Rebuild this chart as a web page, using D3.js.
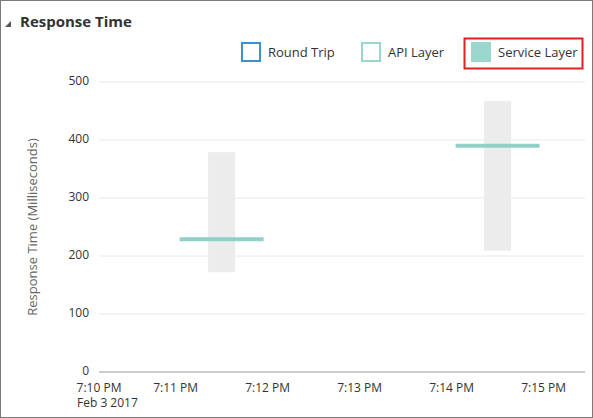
<!DOCTYPE html>
<html><head><meta charset="utf-8">
<script src="https://cdn.jsdelivr.net/npm/d3@7"></script>
<style>body{margin:0;background:#fff;font-family:"Open Sans",Arial,sans-serif}</style>
</head><body><svg id="c" width="593" height="418"></svg>
<script>
const categories = ["7:11:30 PM","7:14:30 PM"];
const times = [new Date(2017,1,3,19,11,30), new Date(2017,1,3,19,14,30)];
const rangeLow = [172, 209];
const rangeHigh = [379, 467];
const serviceLayer = [229, 390];
const yTicks = [0,100,200,300,400,500];
const legendLabels = ["Round Trip","API Layer","Service Layer"];

const svg = d3.select("#c");
svg.append("rect").attr("x",0.5).attr("y",0.5).attr("width",592).attr("height",417).attr("fill","#fff").attr("stroke","#7a7a7a");
svg.append("path").attr("d","M5,27 L11,21 L11,27 Z").attr("fill","#555");
svg.append("text").attr("x",20).attr("y",27).attr("font-size",15).attr("font-weight","bold").attr("fill","#333").text("Response Time");

const x = d3.scaleTime().domain([new Date(2017,1,3,19,10,10), new Date(2017,1,3,19,15,27)]).range([99,585]);
const y = d3.scaleLinear().domain([0,500]).range([372,82]);

const g = svg.append("g");
yTicks.forEach(t=>{
  g.append("line").attr("x1",99).attr("x2",585).attr("y1",y(t)).attr("y2",y(t)).attr("stroke",t===0?"#9a9a9a":"#e8e8e8");
  g.append("text").attr("x",89).attr("y",y(t)+3).attr("text-anchor","end").attr("font-size",12).attr("fill","#333").text(t);
});
svg.append("text").attr("transform","translate(37,227) rotate(-90)").attr("text-anchor","middle").attr("font-size",13).attr("fill","#666").text("Response Time (Milliseconds)");

const tickTimes = [x.domain()[0]].concat(d3.timeMinute.range(new Date(2017,1,3,19,11), new Date(2017,1,3,19,15,1)));
const fmt = d3.timeFormat("%-I:%M PM");
tickTimes.forEach((t,i)=>{
  const lbl = i===0 ? "7:10 PM" : fmt(t);
  svg.append("text").attr("x",x(t)).attr("y",392).attr("text-anchor","middle").attr("font-size",12).attr("fill","#333").text(lbl);
});
svg.append("text").attr("x",77).attr("y",407).attr("font-size",12).attr("fill","#333").text("Feb 3 2017");

const half = 13.5, lhalf = 42;
times.forEach((t,i)=>{
  const cx = x(t);
  g.append("rect").attr("x",cx-half).attr("width",half*2).attr("y",y(rangeHigh[i])).attr("height",y(rangeLow[i])-y(rangeHigh[i])).attr("fill","#ececec");
  g.append("line").attr("x1",cx-lhalf).attr("x2",cx+lhalf).attr("y1",y(serviceLayer[i])).attr("y2",y(serviceLayer[i])).attr("stroke","#8fd1c8").attr("stroke-width",4);
});

const lx = [241,361,471];
const styles = [{f:"#fff",s:"#3c8fd1"},{f:"#fff",s:"#9bd7cf"},{f:"#9bd7cf",s:"#9bd7cf"}];
legendLabels.forEach((l,i)=>{
  svg.append("rect").attr("x",lx[i]+1).attr("y",43).attr("width",18).attr("height",18).attr("fill",styles[i].f).attr("stroke",styles[i].s).attr("stroke-width",2);
  svg.append("text").attr("x",lx[i]+27).attr("y",57).attr("font-size",13).attr("fill","#333").text(l);
});
svg.append("rect").attr("x",464.5).attr("y",38.5).attr("width",118).attr("height",30).attr("fill","none").attr("stroke","#e0201f").attr("stroke-width",2);
</script></body></html>
